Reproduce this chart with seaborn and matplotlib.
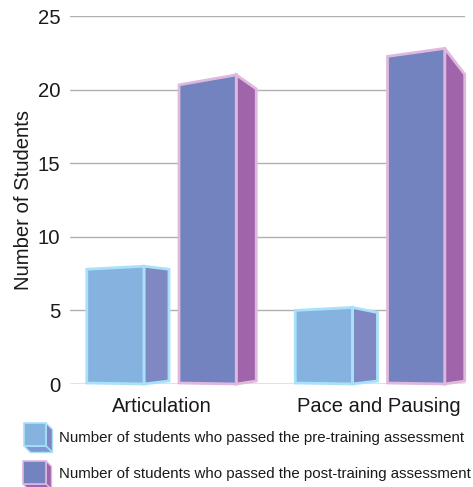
import matplotlib
matplotlib.use("Agg")
import matplotlib.pyplot as plt
import pandas as pd
import seaborn as sns
from matplotlib.patches import Polygon
from matplotlib.transforms import Affine2D

skills = ["Articulation", "Pace and Pausing"]
pre_training = [8.0, 5.2]
post_training = [21.0, 22.8]
pre_label = "Number of students who passed the pre-training assessment"
post_label = "Number of students who passed the post-training assessment"

W, H = 473, 487
PX_Y = 368 / 25  # pixels per student on the y axis
PX_X = 208.5

PRE = dict(front="#86b2e0", side="#8088c4", edge="#a8e2f8", depth=25)
POST = dict(front="#7283c0", side="#a064aa", edge="#dfb8de", depth=20)
# how far the top of the front leans down on the left, and the side wall on the right (px)
LEAN = {"pre": [3, 3], "post": [10, 8]}
DROP = {"pre": [3, 5], "post": [14, 26]}

sns.set_theme(style="white")
plt.rcParams["font.family"] = ["Liberation Sans", "DejaVu Sans"]

df = pd.DataFrame({
    "skill": skills * 2,
    "group": ["pre"] * 2 + ["post"] * 2,
    "students": pre_training + post_training,
})

fig = plt.figure(figsize=(W / 100, H / 100), dpi=100)
ax = fig.add_axes([70 / W, (H - 384) / H, 395 / W, 368 / H])
sns.barplot(data=df, x="skill", y="students", hue="group", hue_order=["pre", "post"],
            width=0.885, gap=0.38, legend=False, ax=ax, zorder=2)

# turn the flat bars into the fake 3D boxes
for i, bar in enumerate(ax.patches[:4]):
    name = "pre" if i < 2 else "post"
    st = PRE if i < 2 else POST
    k = i % 2
    x0, x1 = bar.get_x(), bar.get_x() + bar.get_width()
    top = bar.get_height()
    dx = st["depth"] / PX_X
    lean = LEAN[name][k] / PX_Y
    drop = DROP[name][k] / PX_Y
    low = 3 / PX_Y
    side = Polygon([(x1, 0), (x1, top), (x1 + dx, top - drop), (x1 + dx, low)], closed=True,
                   facecolor=st["side"], edgecolor=st["edge"], lw=2, joinstyle="miter",
                   zorder=3, clip_on=False)
    front = Polygon([(x0, 1 / PX_Y), (x0, top - lean), (x1, top), (x1, 0)], closed=True,
                    facecolor=st["front"], edgecolor=st["edge"], lw=2, joinstyle="miter",
                    zorder=4, clip_on=False)
    ax.add_patch(side)
    ax.add_patch(front)
    bar.set_clip_path(front)

ax.set_xlim(-91.5 / PX_X, 303.5 / PX_X)
ax.set_ylim(0, 25)
ax.set_yticks([0, 5, 10, 15, 20, 25])
ax.set_xticks([0, 1.04])
ax.set_xticklabels(skills)
ax.set_xlabel("")
ax.set_ylabel("Number of Students", fontsize=14.6, color="#1a1a1a", labelpad=3)
ax.tick_params(axis="y", labelsize=14.6, length=0, pad=7, labelcolor="#1a1a1a")
ax.tick_params(axis="x", labelsize=14.5, length=0, pad=9, labelcolor="#1a1a1a")
ax.grid(axis="y", color="#b0b0b0", lw=1.0)
ax.set_axisbelow(True)
sns.despine(ax=ax, left=True, top=True, right=True, bottom=True)
ax.axhline(0, color="#b0b0b0", lw=1.0, zorder=1)

# legend drawn in pixel coordinates, measured from the top left
px = Affine2D().scale(1 / W, -1 / H).translate(0, 1) + fig.transFigure


def cube(x, y, w, h, d, st, bottom):
    fig.add_artist(Polygon([(x + w, y), (x + w + d, y + d), (x + w + d, y + h + d), (x + w, y + h)],
                           closed=True, transform=px, facecolor=st["side"], edgecolor=st["edge"], lw=1))
    fig.add_artist(Polygon([(x, y + h), (x + w, y + h), (x + w + d, y + h + d), (x + d, y + h + d)],
                           closed=True, transform=px, facecolor=bottom, edgecolor=st["edge"], lw=1))
    fig.add_artist(Polygon([(x, y), (x + w, y), (x + w, y + h), (x, y + h)],
                           closed=True, transform=px, facecolor=st["front"], edgecolor=st["edge"], lw=1.2))


cube(24, 423, 22, 23, 6.5, PRE, "#7f9ad0")
cube(23, 461, 23, 23, 5.5, POST, "#a064aa")
fig.text(59 / W, 1 - 438 / H, pre_label, fontsize=10.85, va="center", color="#1a1a1a")
fig.text(58.5 / W, 1 - 474 / H, post_label, fontsize=10.85, va="center", color="#1a1a1a")

fig.savefig("out.png", dpi=100)
